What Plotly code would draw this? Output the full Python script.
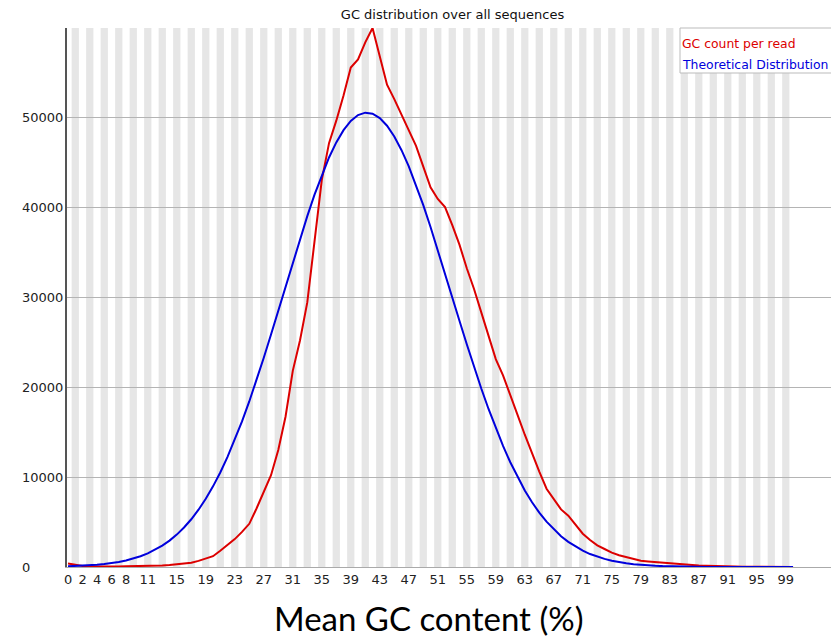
import plotly.graph_objects as go

# ---------------- data ----------------
gc_percent = list(range(101))

gc_count_per_read = [
    400, 230, 120, 80, 60, 60, 60, 60, 70, 80,
    100, 120, 150, 180, 220, 280, 350, 480, 680, 900,
    1200, 1800, 2400, 3100, 3900, 4800, 6500, 8400, 10200, 13000,
    16700, 21800, 25200, 29400, 36100, 43000, 47100, 49600, 52400, 55500,
    56400, 58300, 59900, 56700, 53600, 52000, 50200, 48400, 46800, 44500,
    42200, 40900, 40000, 38000, 35800, 33200, 30900, 28300, 25600, 23100,
    21300, 19200, 16900, 14700, 12600, 10600, 8700, 7500, 6400, 5700,
    4700, 3700, 3000, 2400, 2000, 1600, 1300, 1100, 900, 700,
    620, 550, 490, 410, 330, 260, 220, 180, 140, 100,
    80, 60, 50, 40, 30, 25, 20, 15, 10, 8,
    5,
]

theoretical_distribution = [
    74, 101, 137, 184, 246, 326, 430, 561, 727, 935,
    1194, 1512, 1899, 2368, 2932, 3600, 4388, 5307, 6368, 7585,
    8964, 10504, 12231, 14125, 16180, 18397, 20761, 23250, 25836, 28487,
    31169, 33845, 36466, 38996, 41375, 43561, 45511, 47187, 48551, 49571,
    50222, 50492, 50380, 49890, 49040, 47840, 46320, 44520, 42470, 40210,
    37780, 35230, 32610, 29960, 27340, 24750, 22240, 19840, 17560, 15430,
    13450, 11640, 9990, 8510, 7200, 6040, 5040, 4170, 3420, 2790,
    2250, 1810, 1440, 1140, 900, 700, 540, 415, 316, 239,
    180, 134, 99, 72, 53, 38, 27, 19, 13, 9,
    6, 4, 3, 2, 1, 1, 0, 0, 0, 0,
    0,
]

series_names = ["GC count per read", "Theoretical Distribution"]
series_colors = ["#dc0000", "#0000dc"]

x_tick_values = [0, 2, 4, 6, 8, 11, 15, 19, 23, 27, 31, 35, 39, 43, 47,
                 51, 55, 59, 63, 67, 71, 75, 79, 83, 87, 91, 95, 99]
x_tick_labels = [str(v) for v in x_tick_values]
y_tick_values = [0, 10000, 20000, 30000, 40000, 50000]
y_tick_labels = ["0", "10000", "20000", "30000", "40000", "50000"]

chart_title = "GC distribution over all sequences"
x_title = "Mean GC content (%)"

# ---------------- layout geometry ----------------
# the page body has an 8px default margin, so the figure is placed at (8, 8)
OFF = 8
W, H = 839 - OFF, 637 - OFF
L, T = 67 - OFF, 28 - OFF
R = W - (838 - OFF)
B = H - (567 - OFF)
PW, PH = W - L - R, H - T - B
Y_MAX = 59900
X_RANGE = [-0.14, 106.2]

def px_to_paper_x(px):
    """page pixel -> paper x"""
    return (px - OFF - L) / PW

def px_to_paper_y(py):
    """page pixel -> paper y"""
    return 1 - (py - OFF - T) / PH

fig = go.Figure()

for name, vals, col in zip(series_names,
                           [gc_count_per_read, theoretical_distribution],
                           series_colors):
    fig.add_trace(go.Scatter(
        x=gc_percent, y=vals, mode="lines", name=name,
        line=dict(color=col, width=2), showlegend=False,
    ))

# alternating grey bands
for i in gc_percent:
    if i % 2 == 1 and i <= 99:
        fig.add_shape(type="rect", xref="x", yref="paper",
                      x0=i - 0.5, x1=i + 0.5, y0=0, y1=1,
                      fillcolor="#e6e6e6", line_width=0, layer="below")

# y tick labels, left aligned like FastQC
for v, lab in zip(y_tick_values, y_tick_labels):
    fig.add_annotation(text=lab, xref="paper", yref="y",
                       x=px_to_paper_x(20), y=v, xanchor="left", yanchor="middle",
                       showarrow=False,
                       font=dict(family="DejaVu Sans", size=13, color="#222222"))

# legend box
fig.add_shape(type="rect", xref="paper", yref="paper",
              x0=px_to_paper_x(680), x1=px_to_paper_x(837),
              y0=px_to_paper_y(73), y1=px_to_paper_y(28),
              fillcolor="white", line=dict(color="#bbbbbb", width=1), layer="above")
for k, (name, col) in enumerate(zip(series_names, series_colors)):
    fig.add_annotation(text=name, xref="paper", yref="paper",
                       x=px_to_paper_x(680), y=px_to_paper_y(44 + 20 * k),
                       xanchor="left", yanchor="middle", showarrow=False,
                       font=dict(family="DejaVu Sans", size=12.4, color=col))

# x axis title (large)
fig.add_annotation(text=x_title, xref="paper", yref="paper",
                   x=px_to_paper_x(428.5), y=px_to_paper_y(618),
                   xanchor="center", yanchor="middle", showarrow=False,
                   font=dict(family="Lato", size=33, color="#000000"))

fig.update_layout(
    width=W, height=H,
    margin=dict(l=L, r=R, t=T, b=B, pad=0),
    paper_bgcolor="white", plot_bgcolor="white",
    title=dict(text=chart_title, x=0.5, xref="paper",
               y=1 - (14 - OFF) / H, yref="container", yanchor="middle", xanchor="center",
               font=dict(family="DejaVu Sans", size=13, color="#111111")),
    xaxis=dict(range=X_RANGE, tickmode="array", tickvals=x_tick_values,
               ticktext=x_tick_labels, showgrid=False, zeroline=False,
               showline=True, linecolor="#aaaaaa", linewidth=1, ticks="",
               tickfont=dict(family="DejaVu Sans", size=13, color="#222222")),
    yaxis=dict(range=[0, Y_MAX], tickmode="array", tickvals=y_tick_values,
               showticklabels=False, showgrid=True, gridcolor="#b4b4b4",
               gridwidth=1, zeroline=False, showline=True,
               linecolor="#555555", linewidth=1.5, ticks=""),
)

fig.write_html("out.html")
